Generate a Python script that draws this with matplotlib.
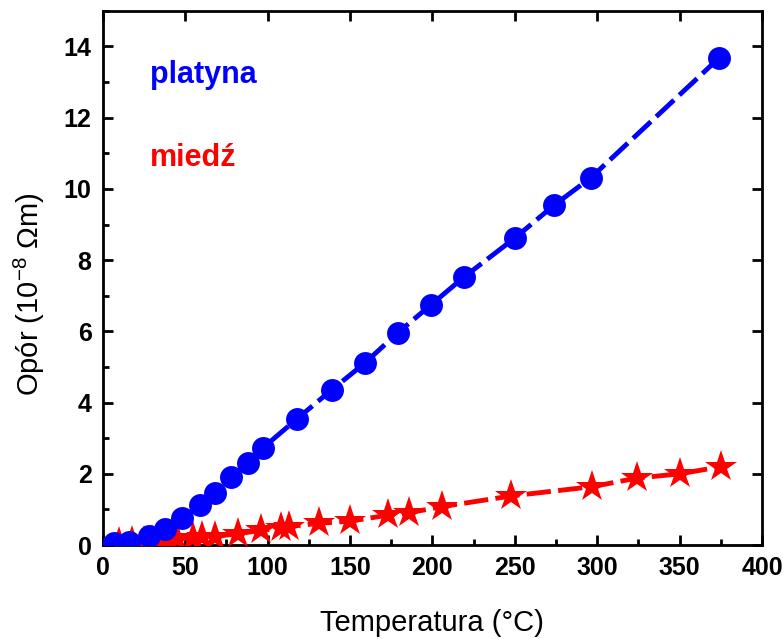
import matplotlib
matplotlib.use("Agg")
import matplotlib.pyplot as plt
from matplotlib.ticker import MultipleLocator

plt.rcParams['font.family'] = ['Liberation Sans', 'DejaVu Sans']
plt.rcParams['mathtext.fontset'] = 'custom'
plt.rcParams['mathtext.rm'] = 'Liberation Sans'
plt.rcParams['mathtext.it'] = 'Liberation Sans'
plt.rcParams['mathtext.bf'] = 'Liberation Sans:bold'

# Platinum resistivity vs temperature
pt_temp = [7, 16, 28, 38, 48, 59, 68, 78, 88, 97, 118, 139, 159, 179, 199,
           219, 250, 274, 296, 374]
pt_res = [0.05, 0.1, 0.25, 0.45, 0.75, 1.12, 1.47, 1.91, 2.31, 2.72, 3.55,
          4.36, 5.11, 5.96, 6.74, 7.52, 8.62, 9.55, 10.31, 13.68]

# Copper resistivity vs temperature
cu_temp = [10, 18, 25, 30, 35, 40, 45, 55, 60, 68, 82, 96, 108, 113, 131,
           150, 173, 186, 206, 248, 297, 324, 350, 375]
cu_res = [0.05, 0.08, 0.1, 0.12, 0.14, 0.15, 0.17, 0.2, 0.22, 0.24, 0.32,
          0.41, 0.48, 0.52, 0.61, 0.67, 0.84, 0.91, 1.08, 1.38, 1.64, 1.88,
          2.0, 2.2]

fig = plt.figure(figsize=(7.84, 6.39), dpi=100)
ax = fig.add_axes([0.131, 0.147, 0.841, 0.836])

ax.plot(cu_temp, cu_res, color='#ff0000', linestyle=(0, (5, 1.5)), lw=3.5,
        marker='*', markersize=24, markeredgewidth=0, zorder=3)
ax.plot(pt_temp, pt_res, color='#0000ff', linestyle=(0, (5, 1.5)), lw=3.5,
        marker='o', markersize=16.5, markeredgewidth=0, zorder=4)

ax.set_xlim(0, 400)
ax.set_ylim(0, 15)
ax.xaxis.set_major_locator(MultipleLocator(50))
ax.xaxis.set_minor_locator(MultipleLocator(25))
ax.yaxis.set_major_locator(MultipleLocator(2))
ax.yaxis.set_minor_locator(MultipleLocator(1))

ax.tick_params(which='both', direction='in', width=2, labelsize=18,
               top=True, right=True)
ax.tick_params(which='major', length=7, pad=8)
ax.tick_params(which='minor', length=4, top=False, right=False)
for lbl in ax.get_xticklabels() + ax.get_yticklabels():
    lbl.set_fontweight('bold')
for s in ax.spines.values():
    s.set_linewidth(2)

ax.set_xlabel('Temperatura (°C)', fontsize=21, labelpad=21)
ax.set_ylabel(r'Opór (10$^{-8}$ $\Omega$m)', fontsize=21)
ax.yaxis.set_label_coords(-0.084, 0.47)

ax.text(28.5, 12.98, 'platyna', color='#0000ff', fontsize=22,
        fontweight='bold', va='baseline')
ax.text(28.5, 10.65, 'miedź', color='#ff0000', fontsize=22,
        fontweight='bold', va='baseline')

fig.savefig('out.png', dpi=100)
